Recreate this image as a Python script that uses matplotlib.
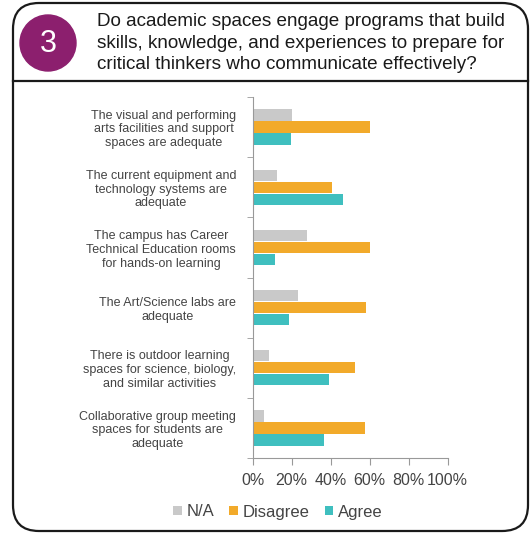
import matplotlib.pyplot as plt
import numpy as np
from matplotlib.patches import FancyBboxPatch, Circle
plt.rcParams['font.family'] = ['Liberation Sans', 'DejaVu Sans']

# data
questions = [
    "The visual and performing\narts facilities and support\nspaces are adequate",
    "The current equipment and\ntechnology systems are\nadequate",
    "The campus has Career\nTechnical Education rooms\nfor hands-on learning",
    "The Art/Science labs are\nadequate",
    "There is outdoor learning\nspaces for science, biology,\nand similar activities",
    "Collaborative group meeting\nspaces for students are\nadequate",
]
series = ["N/A", "Disagree", "Agree"]
na = [20.3, 12.5, 28.0, 23.2, 8.5, 5.6]
disagree = [60.2, 40.7, 60.2, 58.3, 52.3, 57.6]
agree = [19.5, 46.5, 11.6, 18.5, 39.0, 36.6]
x_ticks = [0, 20, 40, 60, 80, 100]
title = ("Do academic spaces engage programs that build\n"
         "skills, knowledge, and experiences to prepare for\n"
         "critical thinkers who communicate effectively?")

colors = ["#C9C9C9", "#F2AA2A", "#3FBFBF"]
W, H = 530, 534

fig = plt.figure(figsize=(W / 100, H / 100), dpi=100)
fig.patch.set_facecolor("white")

# background layer in pixel coordinates for the frame and header
bg = fig.add_axes([0, 0, 1, 1])
bg.set_xlim(0, W)
bg.set_ylim(H, 0)
bg.axis("off")
frame = FancyBboxPatch((13, 3), 515, 528, boxstyle="round,pad=0,rounding_size=26",
                       fc="white", ec="#1a1a1a", lw=1.6)
bg.add_patch(frame)
bg.plot([13, 528], [81, 81], color="#1a1a1a", lw=1.6)
bg.add_patch(Circle((48, 43), 28, color="#8C1F6E"))
bg.text(48, 44, "3", color="white", fontsize=22, ha="center", va="center")
bg.text(97, 43, title, fontsize=13.6, color="#1a1a1a", ha="left", va="center",
        linespacing=1.38)

# bar chart
ax = fig.add_axes([252.7 / W, 1 - 458 / H, 195 / W, 361 / H])
y = np.arange(len(questions))
h = 0.19
for vals, off, c, name in zip([na, disagree, agree], [-0.2, 0, 0.2], colors, series):
    ax.barh(y + off, vals, height=h, color=c, label=name)

ax.set_xlim(0, 100)
ax.set_ylim(len(questions) - 0.5, -0.5)
ax.set_xticks(x_ticks)
ax.set_xticklabels([f"{t}%" for t in x_ticks], fontsize=11.5, color="#444444")
ax.set_yticks(y)
ax.set_yticklabels(questions, fontsize=9, color="#444444", multialignment="center",
                   linespacing=1.2)
ax.set_yticks(np.arange(len(questions) + 1) - 0.5, minor=True)
ax.tick_params(axis="y", which="major", length=0, pad=12)
ax.tick_params(axis="y", which="minor", length=4, color="#999999")
ax.tick_params(axis="x", length=5, color="#999999", pad=6)
for s in ["top", "right"]:
    ax.spines[s].set_visible(False)
for s in ["left", "bottom"]:
    ax.spines[s].set_color("#999999")
    ax.spines[s].set_linewidth(0.8)

leg = fig.legend(loc="center", bbox_to_anchor=(278 / W, 1 - 512 / H), ncol=3,
                 frameon=False, fontsize=12, handlelength=0.5, handleheight=0.5,
                 handletextpad=0.3, columnspacing=0.9)
for t in leg.get_texts():
    t.set_color("#444444")

fig.savefig("out.png", dpi=100, facecolor="white")
